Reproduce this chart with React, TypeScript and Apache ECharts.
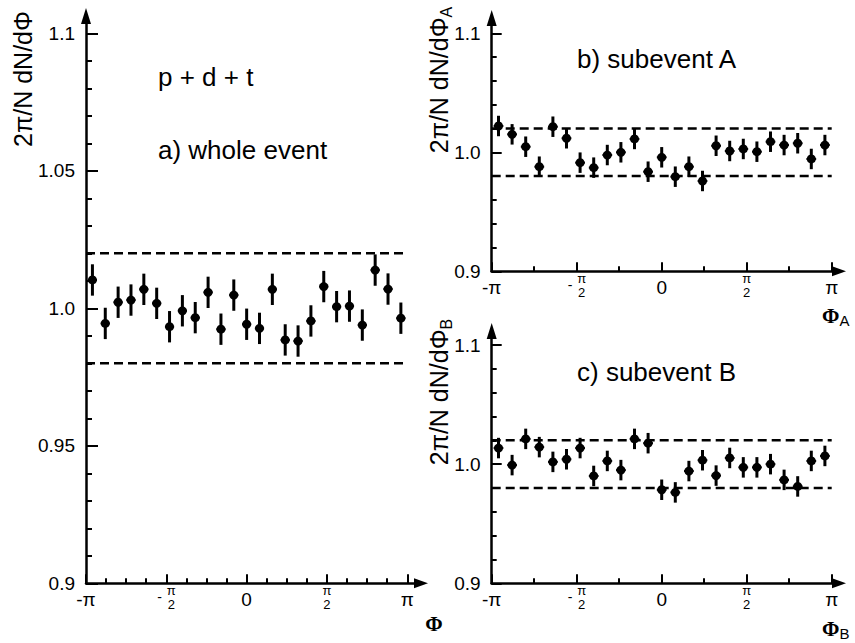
import React, { useEffect, useRef } from 'react';
import * as echarts from 'echarts';

const PI = Math.PI;
const FONT = '"Liberation Sans", Arial, Helvetica, sans-serif';
const SERIF = '"Liberation Serif", "Times New Roman", serif';

// 25 azimuthal bins between -pi and pi (bin centres)
const NBINS = 25;
const binCenters: number[] = Array.from({ length: NBINS }, (_, i) => -PI + ((i + 0.5) * 2 * PI) / NBINS);

// a) whole event
const wholeEvent = [1.0103, 0.9945, 1.0022, 1.003, 1.0069, 1.0018, 0.9933, 0.9991, 0.9966, 1.0058, 0.9924, 1.0048, 0.9942, 0.9927, 1.0069, 0.9885, 0.9881, 0.9954, 1.0079, 1.0006, 1.0008, 0.9939, 1.0139, 1.007, 0.9964];
// b) subevent A
const subeventA = [1.0221, 1.0151, 1.0047, 0.9879, 1.0215, 1.0118, 0.9913, 0.9871, 0.9977, 1.0, 1.0112, 0.9837, 0.9958, 0.9795, 0.9879, 0.9759, 1.0055, 1.0011, 1.0028, 1.0005, 1.0089, 1.0061, 1.0076, 0.9944, 1.0061];
// c) subevent B
const subeventB = [1.0135, 0.9992, 1.0212, 1.0143, 1.0019, 1.0041, 1.0135, 0.9901, 1.0027, 0.995, 1.0212, 1.0176, 0.9785, 0.9763, 0.9942, 1.0033, 0.9904, 1.0052, 0.9973, 0.9973, 1.0, 0.9868, 0.9813, 1.0027, 1.0069];

const errWhole = 0.0057;
const errSub = 0.0086;
const xErr = 0.09;
const refLines = [0.98, 1.02];

const xTickLabels = ['-π', '-π/2', '0', 'π/2', 'π'];
const yTicksWhole = ['0.9', '0.95', '1.0', '1.05', '1.1'];
const yTicksSub = ['0.9', '1.0', '1.1'];

const xRich: Record<string, string> = {
  '-π': '{b|-π}',
  '-π/2': '{sp| }{n|π}\n{m|-}{w| }\n{sp| }{n|2}',
  '0': '{b|0}',
  'π/2': '{n|π}\n{w| }\n{n|2}',
  'π': '{b|π}',
};

const xFormatter = (v: number) => {
  const k = Math.round(v / (PI / 2));
  if (Math.abs(v - (k * PI) / 2) > 1e-6) return '';
  const lab = xTickLabels[k + 2];
  return lab ? xRich[lab] : '';
};

const richX = {
  b: { fontSize: 19, lineHeight: 25, fontFamily: FONT, color: '#000' },
  n: { fontSize: 13, lineHeight: 7, width: 8, align: 'center', fontFamily: FONT, color: '#000' },
  w: { fontSize: 13, lineHeight: 7, width: 8, fontFamily: FONT },
  sp: { fontSize: 13, lineHeight: 7, width: 10, fontFamily: FONT },
  m: { fontSize: 14, lineHeight: 7, width: 10, align: 'left', fontFamily: FONT, color: '#000' },
};

const BLACK = '#000';

function dataXAxis(gi: number, minorSplit: number) {
  return {
    type: 'value', gridIndex: gi, min: -PI, max: PI, interval: PI / 2,
    axisLine: { show: false, onZero: false },
    axisTick: { show: true, inside: true, length: 9, lineStyle: { color: BLACK, width: 2 } },
    minorTick: { show: true, splitNumber: minorSplit, length: 5, lineStyle: { color: BLACK, width: 2 } },
    splitLine: { show: false }, minorSplitLine: { show: false },
    axisLabel: { margin: 3.5, formatter: xFormatter, rich: richX, color: BLACK },
  };
}

function dataYAxis(gi: number, interval: number, labels: string[], majorLen: number, minorLen: number) {
  return {
    type: 'value', gridIndex: gi, min: 0.9, max: 1.1, interval,
    axisLine: { show: false, onZero: false },
    axisTick: { show: true, inside: true, length: majorLen, lineStyle: { color: BLACK, width: 2 } },
    minorTick: { show: true, splitNumber: 5, length: minorLen, lineStyle: { color: BLACK, width: 2 } },
    splitLine: { show: false }, minorSplitLine: { show: false },
    axisLabel: {
      margin: 11, fontSize: 19, fontFamily: FONT, color: BLACK,
      formatter: (v: number) => labels[Math.round((v - 0.9) / interval)] ?? '',
    },
  };
}

function arrowXAxis(gi: number) {
  return {
    type: 'value', gridIndex: gi, min: 0, max: 1,
    axisLine: { show: true, onZero: false, symbol: ['none', 'triangle'], symbolSize: [10, 14], lineStyle: { color: BLACK, width: 2.5 } },
    axisTick: { show: false }, axisLabel: { show: false }, splitLine: { show: false },
  };
}
function arrowYAxis(gi: number) {
  return {
    type: 'value', gridIndex: gi, min: 0, max: 1,
    axisLine: { show: true, onZero: false, symbol: ['none', 'triangle'], symbolSize: [10, 16], lineStyle: { color: BLACK, width: 2.5 } },
    axisTick: { show: false }, axisLabel: { show: false }, splitLine: { show: false },
  };
}

function pointsSeries(gi: number, values: number[], err: number) {
  return {
    type: 'custom', xAxisIndex: gi, yAxisIndex: gi, z: 5,
    data: values.map((v, i) => [binCenters[i], v, err]),
    renderItem: (_params: any, api: any) => {
      const x = api.value(0);
      const y = api.value(1);
      const e = api.value(2);
      const c = api.coord([x, y]);
      const t = api.coord([x, y + e]);
      const b = api.coord([x, y - e]);
      const l = api.coord([x - xErr, y]);
      const r = api.coord([x + xErr, y]);
      return {
        type: 'group',
        children: [
          { type: 'line', shape: { x1: c[0], y1: t[1], x2: c[0], y2: b[1] }, style: { stroke: BLACK, lineWidth: 3 } },
          { type: 'line', shape: { x1: l[0], y1: c[1], x2: r[0], y2: c[1] }, style: { stroke: BLACK, lineWidth: 2 } },
          { type: 'circle', shape: { cx: c[0], cy: c[1], r: 4.5 }, style: { fill: BLACK } },
        ],
      };
    },
  };
}

function refSeries(gi: number, v: number) {
  return {
    type: 'line', xAxisIndex: gi, yAxisIndex: gi, symbol: 'none', silent: true, z: 3,
    data: [[-PI, v], [PI, v]],
    lineStyle: { color: BLACK, width: 2.5, type: [9, 5] },
  };
}

export default function App() {
  const ref = useRef<HTMLDivElement>(null);
  useEffect(() => {
    document.body.style.margin = '0';
    if (!ref.current) return;
    const chart = echarts.init(ref.current, undefined, { renderer: 'svg' });
    const panels = [
      { gi: 0, values: wholeEvent, err: errWhole },
      { gi: 2, values: subeventA, err: errSub },
      { gi: 4, values: subeventB, err: errSub },
    ];
    const series: any[] = [];
    panels.forEach((p) => {
      refLines.forEach((v) => series.push(refSeries(p.gi, v)));
      series.push(pointsSeries(p.gi, p.values, p.err));
    });
    const subRich = { s: { fontSize: 16, lineHeight: 16, verticalAlign: 'bottom', fontFamily: FONT, fill: BLACK } };
    const phiRich = (sub: string) => ({
      p: { fontSize: 21, fontWeight: 'bold', fontFamily: SERIF, lineHeight: 24, fill: BLACK },
      s: { fontSize: 15, fontFamily: FONT, lineHeight: 14, verticalAlign: 'bottom', fill: BLACK },
    });
    const option: any = {
      animation: false,
      backgroundColor: '#fff',
      grid: [
        { left: 86, top: 33.3, width: 321.3, height: 550 },
        { left: 86, top: 16, width: 335, height: 567.3 },
        { left: 491.7, top: 33.3, width: 340, height: 238 },
        { left: 491.7, top: 18, width: 347.3, height: 253.3 },
        { left: 491.7, top: 345, width: 340, height: 238.3 },
        { left: 491.7, top: 331, width: 347.3, height: 252.3 },
      ],
      xAxis: [
        dataXAxis(0, 4), arrowXAxis(1),
        dataXAxis(2, 2), arrowXAxis(3),
        dataXAxis(4, 2), arrowXAxis(5),
      ],
      yAxis: [
        dataYAxis(0, 0.05, yTicksWhole, 12, 6), arrowYAxis(1),
        dataYAxis(2, 0.1, yTicksSub, 10, 5), arrowYAxis(3),
        dataYAxis(4, 0.1, yTicksSub, 10, 5), arrowYAxis(5),
      ],
      series,
      graphic: [
        { type: 'text', x: 23, y: 79, rotation: PI / 2, style: { text: '2π/N dN/dΦ', fontSize: 25, fontFamily: FONT, fill: BLACK, align: 'center', verticalAlign: 'middle' } },
        { type: 'text', x: 439, y: 80, rotation: PI / 2, style: { text: '2π/N dN/dΦ{s|A}', fontSize: 25, lineHeight: 30, fontFamily: FONT, fill: BLACK, align: 'center', verticalAlign: 'middle', rich: subRich } },
        { type: 'text', x: 439, y: 392, rotation: PI / 2, style: { text: '2π/N dN/dΦ{s|B}', fontSize: 25, lineHeight: 30, fontFamily: FONT, fill: BLACK, align: 'center', verticalAlign: 'middle', rich: subRich } },
        { type: 'text', x: 158, y: 77, style: { text: 'p + d + t', fontSize: 26, fontFamily: FONT, fill: BLACK, align: 'left', verticalAlign: 'middle' } },
        { type: 'text', x: 158, y: 150, style: { text: 'a) whole event', fontSize: 26, fontFamily: FONT, fill: BLACK, align: 'left', verticalAlign: 'middle' } },
        { type: 'text', x: 577, y: 59, style: { text: 'b) subevent A', fontSize: 26, fontFamily: FONT, fill: BLACK, align: 'left', verticalAlign: 'middle' } },
        { type: 'text', x: 577, y: 372, style: { text: 'c) subevent B', fontSize: 26, fontFamily: FONT, fill: BLACK, align: 'left', verticalAlign: 'middle' } },
        { type: 'text', x: 434, y: 624, style: { text: 'Φ', fontSize: 21, fontWeight: 'bold', fontFamily: SERIF, fill: BLACK, align: 'center', verticalAlign: 'middle' } },
        { type: 'text', x: 822, y: 316, style: { text: '{p|Φ}{s|A}', align: 'left', verticalAlign: 'middle', rich: phiRich('A') } },
        { type: 'text', x: 822, y: 629, style: { text: '{p|Φ}{s|B}', align: 'left', verticalAlign: 'middle', rich: phiRich('B') } },
      ],
    };
    chart.setOption(option);
    return () => chart.dispose();
  }, []);
  return <div ref={ref} style={{ width: 855, height: 643 }} />;
}
